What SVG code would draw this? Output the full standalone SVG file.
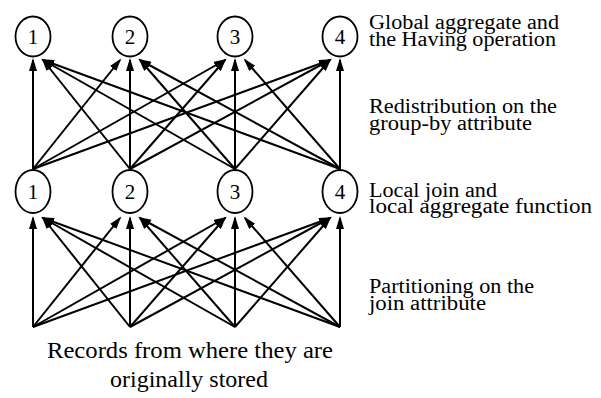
<svg xmlns="http://www.w3.org/2000/svg" width="601" height="398" viewBox="0 0 601 398">
  <style>
    text { font-family: "Times New Roman", Times, "Liberation Serif", "DejaVu Serif", "Noto Serif", FreeSerif, serif; fill: #000; }
    .node ellipse { fill: #fff; stroke: #000; stroke-width: 1.8; }
    .node text { font-size: 21px; text-anchor: middle; }
    .edges line { stroke: #000; stroke-width: 2; marker-end: url(#arrow); }
    .label { font-size: 20px; }
    .caption { font-size: 24px; text-anchor: middle; }
  </style>
  <defs>
    <marker id="arrow" markerUnits="userSpaceOnUse" markerWidth="14" markerHeight="9" refX="11" refY="4" orient="auto">
      <path d="M0,0 L13,4 L0,8 Z" fill="#000"/>
    </marker>
  </defs>
  <rect width="601" height="398" fill="#fff"/>

  <!-- connectors: partitioning (bottom) and redistribution (upper) -->
  <g id="connectors" class="edges">
    <!-- redistribution on the group-by attribute -->
    <line x1="33" y1="169" x2="33" y2="60"/>
    <line x1="33" y1="169" x2="120" y2="60"/>
    <line x1="33" y1="169" x2="225" y2="60"/>
    <line x1="33" y1="169" x2="330" y2="60"/>
    <line x1="130" y1="169" x2="43" y2="60"/>
    <line x1="130" y1="169" x2="130" y2="60"/>
    <line x1="130" y1="169" x2="225" y2="60"/>
    <line x1="130" y1="169" x2="330" y2="60"/>
    <line x1="235" y1="169" x2="43" y2="60"/>
    <line x1="235" y1="169" x2="140" y2="60"/>
    <line x1="235" y1="169" x2="235" y2="60"/>
    <line x1="235" y1="169" x2="330" y2="60"/>
    <line x1="340" y1="169" x2="43" y2="60"/>
    <line x1="340" y1="169" x2="140" y2="60"/>
    <line x1="340" y1="169" x2="245" y2="60"/>
    <line x1="340" y1="169" x2="340" y2="60"/>
    <!-- partitioning on the join attribute -->
    <line x1="33" y1="327" x2="33" y2="218"/>
    <line x1="33" y1="327" x2="120" y2="218"/>
    <line x1="33" y1="327" x2="225" y2="218"/>
    <line x1="33" y1="327" x2="330" y2="218"/>
    <line x1="130" y1="327" x2="43" y2="218"/>
    <line x1="130" y1="327" x2="130" y2="218"/>
    <line x1="130" y1="327" x2="225" y2="218"/>
    <line x1="130" y1="327" x2="330" y2="218"/>
    <line x1="235" y1="327" x2="43" y2="218"/>
    <line x1="235" y1="327" x2="140" y2="218"/>
    <line x1="235" y1="327" x2="235" y2="218"/>
    <line x1="235" y1="327" x2="330" y2="218"/>
    <line x1="340" y1="327" x2="43" y2="218"/>
    <line x1="340" y1="327" x2="140" y2="218"/>
    <line x1="340" y1="327" x2="245" y2="218"/>
    <line x1="340" y1="327" x2="340" y2="218"/>
  </g>

  <!-- global aggregate nodes -->
  <g id="global-1" class="node"><ellipse cx="33" cy="36.5" rx="17.5" ry="20"/><text x="33" y="44">1</text></g>
  <g id="global-2" class="node"><ellipse cx="130" cy="36.5" rx="17.5" ry="20"/><text x="130" y="44">2</text></g>
  <g id="global-3" class="node"><ellipse cx="235" cy="36.5" rx="17.5" ry="20"/><text x="235" y="44">3</text></g>
  <g id="global-4" class="node"><ellipse cx="340" cy="36.5" rx="17.5" ry="20"/><text x="340" y="44">4</text></g>

  <!-- local join / aggregate nodes -->
  <g id="local-1" class="node"><ellipse cx="33" cy="191.5" rx="17.5" ry="21.5"/><text x="33" y="199">1</text></g>
  <g id="local-2" class="node"><ellipse cx="130" cy="191.5" rx="17.5" ry="21.5"/><text x="130" y="199">2</text></g>
  <g id="local-3" class="node"><ellipse cx="235" cy="191.5" rx="17.5" ry="21.5"/><text x="235" y="199">3</text></g>
  <g id="local-4" class="node"><ellipse cx="340" cy="191.5" rx="17.5" ry="21.5"/><text x="340" y="199">4</text></g>

  <!-- stage descriptions -->
  <g id="stage-labels">
    <text class="label" x="369" y="29" textLength="190" lengthAdjust="spacingAndGlyphs">Global aggregate and</text>
    <text class="label" x="369" y="46" textLength="187" lengthAdjust="spacingAndGlyphs">the Having operation</text>
    <text class="label" x="369" y="113" textLength="188" lengthAdjust="spacingAndGlyphs">Redistribution on the</text>
    <text class="label" x="369" y="130" textLength="163" lengthAdjust="spacingAndGlyphs">group-by attribute</text>
    <text class="label" x="369" y="196.5" textLength="128" lengthAdjust="spacingAndGlyphs">Local join and</text>
    <text class="label" x="369" y="213" textLength="223" lengthAdjust="spacingAndGlyphs">local aggregate function</text>
    <text class="label" x="369" y="293" textLength="165" lengthAdjust="spacingAndGlyphs">Partitioning on the</text>
    <text class="label" x="369" y="310" textLength="117" lengthAdjust="spacingAndGlyphs">join attribute</text>
  </g>

  <g id="source-caption">
    <text class="caption" x="190" y="358" textLength="286" lengthAdjust="spacingAndGlyphs">Records from where they are</text>
    <text class="caption" x="189" y="387">originally stored</text>
  </g>
</svg>
